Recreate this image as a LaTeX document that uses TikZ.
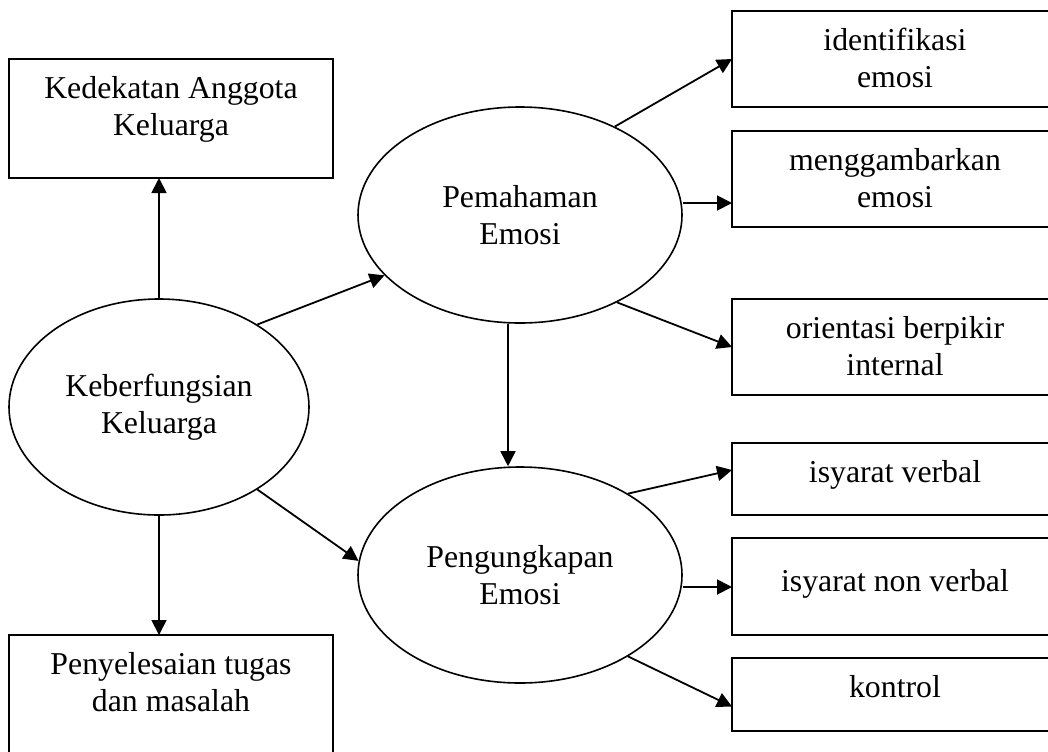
\documentclass[tikz,border=0pt]{standalone}
\usepackage{fontspec}
\setmainfont{Liberation Serif}
\usetikzlibrary{shapes.geometric, arrows.meta, positioning}
\tikzset{
    latent/.style={ellipse, draw, line width=0.8pt, minimum width=162pt, minimum height=108pt, inner sep=0pt, align=center},
    indicator/.style={rectangle, draw, line width=1pt, inner sep=0pt, outer sep=0pt},
    arrow/.style={-{Triangle[length=7.5pt, width=7.5pt]}, line width=0.9pt},
}
\newcommand{\toptext}[4][7pt]{\parbox[c][#3][t]{#2}{\centering\vspace*{#1}\strut #4}}

\begin{document}
\begin{tikzpicture}[x=1pt, y=-1pt, every node/.style={font=\fontsize{15.9}{18.5}\selectfont}]
    \useasboundingbox (0,0) rectangle (524,375.5);
    \clip (0,0) rectangle (524,375.5);

    % Variabel utama
    \node[latent, minimum width=150pt] (kel) at (79.5,203.5) {Keberfungsian\\Keluarga};
    \node[latent] (pem) at (260,107.5) {Pemahaman\\Emosi};
    \node[latent] (peng) at (260,287.5) {Pengungkapan\\Emosi};

    % Kotak kiri
    \node[indicator, anchor=north west] (ked) at (4.5,29.5) {\toptext{162pt}{59.5pt}{Kedekatan Anggota\\Keluarga}};
    \node[indicator, anchor=north west] (peny) at (4.5,317.5) {\toptext{162pt}{60pt}{Penyelesaian tugas\\dan masalah}};

    % Kotak kanan
    \node[indicator, anchor=north west] (iden) at (366,5.5) {\toptext{163pt}{48pt}{identifikasi\\emosi}};
    \node[indicator, below=12pt of iden] (meng) {\toptext{163pt}{48pt}{menggambarkan\\emosi}};
    \node[indicator, below=36pt of meng] (orie) {\toptext{163pt}{48pt}{orientasi berpikir\\internal}};
    \node[indicator, below=24pt of orie] (verb) {\toptext{163pt}{36pt}{isyarat verbal}};
    \node[indicator, below=11.5pt of verb] (nonv) {\toptext[14pt]{163pt}{48.5pt}{isyarat non verbal}};
    \node[indicator, below=11.5pt of nonv] (kont) {\toptext{163pt}{36.5pt}{kontrol}};

    % Panah dari keberfungsian keluarga
    \draw[arrow] (kel.north) -- (kel.north |- ked.south);
    \draw[arrow] (kel.south) -- (kel.south |- peny.north);
    \draw[arrow] (kel.40) -- (pem.204);
    \draw[arrow] (kel.320) -- (peng.175);
    \draw[arrow] ([xshift=-6pt]pem.south) -- ([xshift=-6pt]peng.north);
    % Pemahaman ke indikator
    \draw[arrow] (pem.43) -- (iden.west);
    \draw[arrow] ([yshift=6pt]pem.east) -- ([yshift=6pt]pem.east -| meng.west);
    \draw[arrow] (pem.318) -- (orie.west);
    % Pengungkapan ke indikator
    \draw[arrow] (peng.37) -- ([yshift=4.5pt]verb.west);
    \draw[arrow] ([yshift=-6pt]peng.east) -- ([yshift=-6pt]peng.east -| nonv.west);
    \draw[arrow] (peng.323) -- ([yshift=-6pt]kont.west);
\end{tikzpicture}
\end{document}
